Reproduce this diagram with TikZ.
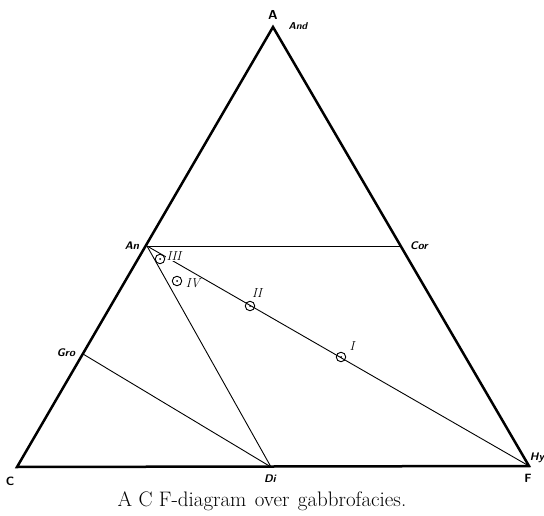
\documentclass[tikz,border=0pt]{standalone}
\usepackage{fontspec}
\begin{document}
\begin{tikzpicture}[x=1pt,y=-1pt,
  vlab/.style={font=\sffamily\bfseries\itshape\fontsize{11}{13}\selectfont, inner sep=1pt},
  numlab/.style={font=\itshape\fontsize{13}{15}\selectfont, inner sep=1pt},
  outer/.style={line width=2.5pt, line join=miter},
  thin/.style={line width=0.9pt},
  pt/.style={circle, draw, line width=0.9pt, minimum size=9.5pt, inner sep=0pt}]
\useasboundingbox (0,0) rectangle (544,516);
% vertices
\coordinate (A) at (273,27);
\coordinate (C) at (17,467);
\coordinate (F) at (529,466);
\coordinate (An) at (147,246);
\coordinate (Cor) at (401,246);
\coordinate (Gro) at (83,354);
\coordinate (Di) at (271,467);
% triangle
\draw[outer] (A) -- (C) -- (F) -- cycle;
% inner lines
\draw[line width=1pt] (An) -- (Cor);
\draw[thin] (An) -- (F);
\draw[thin] (An) -- (Di);
\draw[thin] (Gro) -- (Di);
% points
\node[pt] (p3) at (160,259) {};
\node[pt] (p4) at (177,281) {};
\node[pt] (p2) at (250,306) {};
\node[pt] (p1) at (341,357) {};
\foreach \p in {p1,p2,p3,p4} \fill (\p) circle (1pt);
% numerals
\node[numlab, fill=white, inner sep=0.5pt] (l3) at (174,256) {III};
\node[numlab] (l4) at (193,283) {IV};
\node[numlab] (l2) at (257,293) {II};
\node[numlab] (l1) at (352,346) {I};
% vertex labels
\node[vlab, font=\sffamily\bfseries\fontsize{13}{15}\selectfont] (lA) at (273,15) {A};
\node[vlab, font=\sffamily\bfseries\itshape\fontsize{10}{12}\selectfont] (lAnd) at (298,26) {And};
\node[vlab] (lAn) at (132,246) {An};
\node[vlab] (lCor) at (419,246) {Cor};
\node[vlab] (lGro) at (66,353) {Gro};
\node[vlab, font=\sffamily\bfseries\fontsize{12}{14}\selectfont] (lC) at (10,481) {C};
\node[vlab] (lDi) at (270,479) {Di};
\node[vlab, font=\sffamily\bfseries\fontsize{12}{14}\selectfont] (lF) at (528,478) {F};
\node[vlab] (lHy) at (537,458) {Hy};
% caption
\node[font=\fontsize{21}{24}\selectfont\addfontfeature{LetterSpace=10}, inner sep=0pt] (cap) at (262,501) {A\hspace{0.3em}C\hspace{0.3em}F-diagram\hspace{0.4em}over\hspace{0.4em}gabbrofacies.};
\end{tikzpicture}
\end{document}
